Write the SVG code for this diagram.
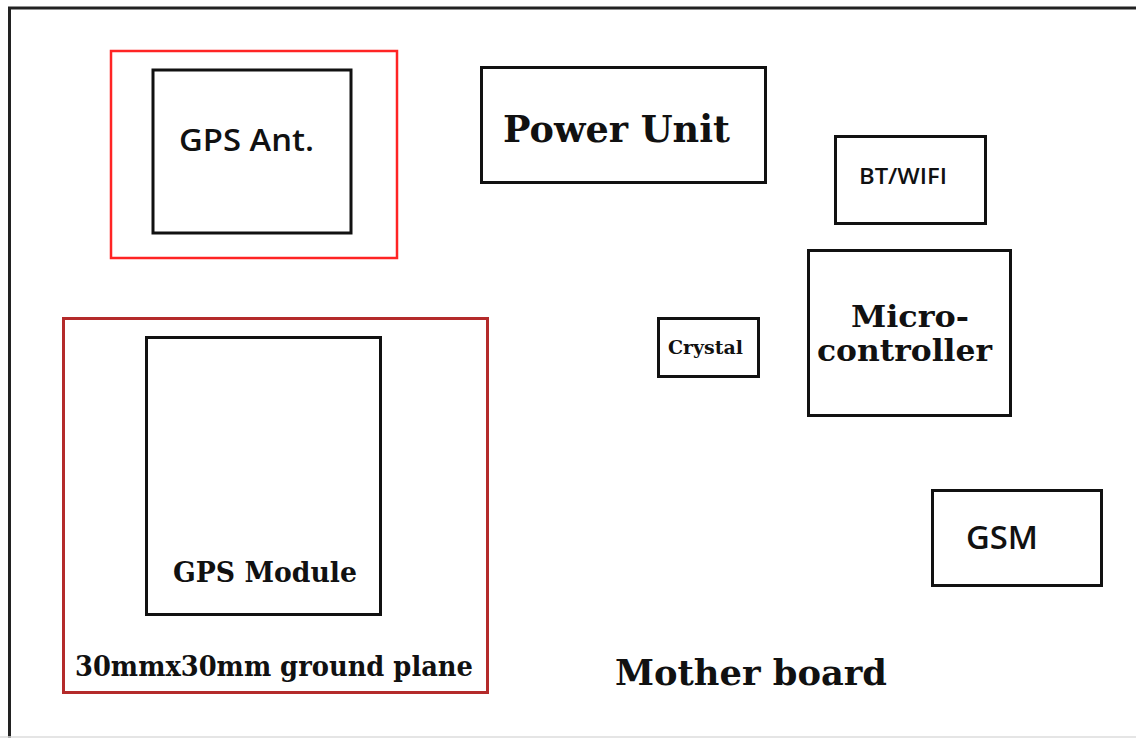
<svg xmlns="http://www.w3.org/2000/svg" width="1136" height="738" viewBox="0 0 1136 738">
<style>
.box{fill:none;stroke:#111;stroke-width:3}
.serif{font-family:"DejaVu Serif","Liberation Serif",serif;font-weight:bold;fill:#111}
.sans{font-family:"Open Sans","Noto Sans",sans-serif;font-weight:600;fill:#111}
</style>
<rect width="1136" height="738" fill="#fff"/>
<g id="board">
<path d="M1136 8 H9.5 V738" fill="none" stroke="#222" stroke-width="3"/>
<line x1="0" y1="737" x2="1136" y2="737" stroke="#ddd" stroke-width="1.5"/>
<text class="serif" x="615" y="685" font-size="36" textLength="272" lengthAdjust="spacingAndGlyphs">Mother board</text>
</g>
<g id="gps-ant">
<rect x="111" y="51" width="286" height="207" fill="none" stroke="#ff2424" stroke-width="2.5"/>
<rect x="153" y="70" width="198" height="163" class="box" stroke-width="4"/>
<text class="sans" x="179" y="151" font-size="31" textLength="135" lengthAdjust="spacingAndGlyphs">GPS Ant.</text>
</g>
<g id="power-unit">
<rect x="481.5" y="67.5" width="284" height="115" class="box"/>
<text class="serif" x="503" y="142" font-size="38" textLength="227" lengthAdjust="spacingAndGlyphs">Power Unit</text>
</g>
<g id="bt-wifi">
<rect x="835.5" y="136.5" width="150" height="87" class="box"/>
<text class="sans" x="859" y="184" font-size="21" textLength="88" lengthAdjust="spacingAndGlyphs">BT/WIFI</text>
</g>
<g id="microcontroller">
<rect x="808.5" y="250.5" width="202" height="165" class="box"/>
<text class="serif" x="851" y="327" font-size="29" textLength="118" lengthAdjust="spacingAndGlyphs">Micro-</text>
<text class="serif" x="817" y="361" font-size="29" textLength="175" lengthAdjust="spacingAndGlyphs">controller</text>
</g>
<g id="crystal">
<rect x="658.5" y="318.5" width="100" height="58" class="box" stroke-width="2.5"/>
<text class="serif" x="668" y="354" font-size="18" textLength="75" lengthAdjust="spacingAndGlyphs">Crystal</text>
</g>
<g id="gps-module">
<rect x="63.5" y="318.5" width="424" height="374" fill="none" stroke="#b42a2a" stroke-width="3"/>
<rect x="146.5" y="337.5" width="234" height="277" class="box"/>
<text class="serif" x="173" y="582" font-size="27" textLength="184" lengthAdjust="spacingAndGlyphs">GPS Module</text>
<text class="serif" x="75" y="676" font-size="27" textLength="398" lengthAdjust="spacingAndGlyphs">30mmx30mm ground plane</text>
</g>
<g id="gsm">
<rect x="932.5" y="490.5" width="169" height="95" class="box"/>
<text class="sans" x="966" y="549" font-size="32" textLength="72" lengthAdjust="spacingAndGlyphs">GSM</text>
</g>
<g id="connectors"></g>
</svg>
